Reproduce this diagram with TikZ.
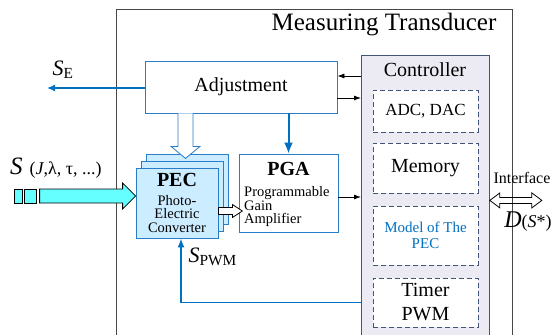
\documentclass[tikz,border=0pt]{standalone}
\usepackage{fontspec}
\setmainfont{Liberation Serif}
\usetikzlibrary{arrows.meta}
\definecolor{linkblue}{RGB}{0,112,192}
\definecolor{boxblue}{RGB}{40,125,200}
\definecolor{pecfill}{RGB}{204,236,255}
\definecolor{ctrlfill}{RGB}{236,234,242}
\definecolor{ctrlline}{RGB}{68,84,120}
\definecolor{sigcyan}{RGB}{102,255,255}
\definecolor{framegray}{RGB}{70,70,70}

\begin{document}
\begin{tikzpicture}[x=1pt,y=-1pt,>=latex,
  blk/.style={draw=boxblue,fill=white,inner sep=0pt,line width=0.8pt},
  pecbox/.style={draw=boxblue,fill=pecfill,inner sep=0pt,line width=0.8pt,
    minimum width=82,minimum height=70},
  unit/.style={draw=ctrlline,fill=white,dashed,dash pattern=on 5pt off 3pt,
    line width=0.8pt,minimum width=105,inner sep=0pt,align=center,
    font=\fontsize{20}{24}\selectfont},
  bluearr/.style={draw=linkblue,line width=1.5pt,-{Latex[length=8pt,width=7pt]}},
  blkarr/.style={line width=0.8pt,-{Latex[length=7pt,width=5pt]}},
  hollow/.style={line width=0.8pt,line join=miter}]
  \clip (0,0) rectangle (558,335);

  % frame of the transducer
  \node[draw=framegray,line width=0.8pt,minimum width=396,minimum height=340,
    anchor=north west,inner sep=0pt] (mt) at (116,9) {};
  \node[font=\fontsize{25}{28}\selectfont] (mttitle) at (384,25) {Measuring Transducer};

  % controller
  \node[draw=ctrlline,fill=ctrlfill,line width=0.8pt,minimum width=128,
    minimum height=290,anchor=north west,inner sep=0pt] (ctrl) at (361,55) {};
  \node[font=\fontsize{20}{22}\selectfont] (ctrltitle) at (425,70) {Controller};
  \node[unit,minimum height=42,font=\fontsize{17}{19}\selectfont] (adc) at (425.5,111) {ADC, DAC};
  \node[unit,minimum height=50] (mem) at (425.5,168) {Memory};
  \node[unit,minimum height=59,text=linkblue,font=\fontsize{15}{16}\selectfont] (model) at (425.5,235.5) {Model of The\\PEC};
  \node[unit,minimum height=49] (tim) at (425.5,302.5) {Timer\\PWM};

  % adjustment and amplifier
  \node[blk,minimum width=192,minimum height=52,font=\fontsize{20}{22}\selectfont] (adj) at (241,87) {Adjustment};
  \node[blk,minimum width=99,minimum height=78] (pga) at (288.5,193) {};
  \node[font=\fontsize{20}{22}\selectfont\bfseries] (pgatitle) at (288.5,169) {PGA};
  \node[anchor=west,align=left,inner sep=0pt,font=\fontsize{14.5}{13.5}\selectfont] (pgatxt) at (244,207) {Programmable\\Gain\\Amplifier};

  % photo-electric converter
  \node[pecbox] (pec3) at (187,189) {};
  \node[pecbox] (pec2) at (182,196) {};
  \node[pecbox,align=center,font=\fontsize{14.5}{13.5}\selectfont] (pec) at (177,203)
    {{\fontsize{20}{20}\selectfont\bfseries PEC}\\[5pt]Photo-\\Electric\\Converter};

  % input signal
  \node[draw,fill=sigcyan,line width=0.8pt,minimum width=8,minimum height=14,inner sep=0pt] (sq1) at (18,196) {};
  \node[draw,fill=sigcyan,line width=0.8pt,minimum width=12,minimum height=14,inner sep=0pt] (sq2) at (30.5,196) {};
  \coordinate (sintip) at ([yshift=7pt]pec.west);
  \draw[hollow,fill=sigcyan] (sintip) -- ++(-13,-13) -- ++(0,6) -- ++(-83,0) -- ++(0,14)
    -- ++(83,0) -- ++(0,6) -- cycle;
  \node[anchor=west,inner sep=0pt,font=\fontsize{25}{28}\selectfont] (slbl) at (10,168)
    {\textit{S}\hspace{7pt}{\fontsize{18}{20}\selectfont(\textit{J},λ, τ, ...)}};

  % connections
  \coordinate (adjpec) at ([xshift=-55.5pt]adj.south);
  \draw[hollow,draw=boxblue,fill=white] (adjpec) ++(-7.5,0) -- ++(0,33) -- ++(-7,0)
    -- ++(14.5,12) -- ++(14.5,-12) -- ++(-7,0) -- ++(0,-33);
  \coordinate (pecout) at ([yshift=-8pt]pec.east);
  \draw[hollow,fill=white] (pecout) ++(0,-3.5) -- ++(14,0) -- ++(0,-3) -- ++(10,6.5)
    -- ++(-10,6.5) -- ++(0,-3) -- ++(-14,0) -- cycle;
  \coordinate (se) at (47,88);
  \draw[bluearr] (adj.west |- se) -- (se);
  \node[font=\fontsize{22}{24}\selectfont] (selbl) at (63,70) {\textit{S}\textsubscript{E}};
  \draw[bluearr,line width=2pt,-{Latex[length=11pt,width=9pt]}] (adj.south -| pga.north) -- (pga.north);
  \coordinate (adjhi) at ([yshift=11pt]adj.east);
  \coordinate (adjlo) at ([yshift=-11pt]adj.east);
  \draw[blkarr] (adjhi -| ctrl.west) -- (adjhi);
  \draw[blkarr] (adjlo) -- (adjlo -| ctrl.west);
  \coordinate (pgaout) at ([yshift=-4pt]pga.east);
  \draw[blkarr] (pgaout) -- (pgaout -| ctrl.west);
  \draw[bluearr,-{Latex[length=9pt,width=7pt]}] (ctrl.west |- tim.west) -| ([xshift=4pt]pec.south);
  \node[anchor=west,font=\fontsize{22}{24}\selectfont] (pwmlbl) at (185,257) {\textit{S}\textsubscript{PWM}};

  % interface
  \draw[hollow] (ctrl.east) -- ++(10,-7.5) -- ++(0,4.5) -- ++(32,0) -- ++(0,-4.5)
    -- ++(10,7.5) -- ++(-10,7.5) -- ++(0,-4.5) -- ++(-32,0) -- ++(0,4.5) -- cycle;
  \node[font=\fontsize{16}{18}\selectfont] (ifacetxt) at (522,178) {Interface};
  \node[font=\fontsize{24}{26}\selectfont] (dlbl) at (528,222)
    {\textit{D}{\fontsize{18}{20}\selectfont(\textit{S}*)}};
\end{tikzpicture}
\end{document}
